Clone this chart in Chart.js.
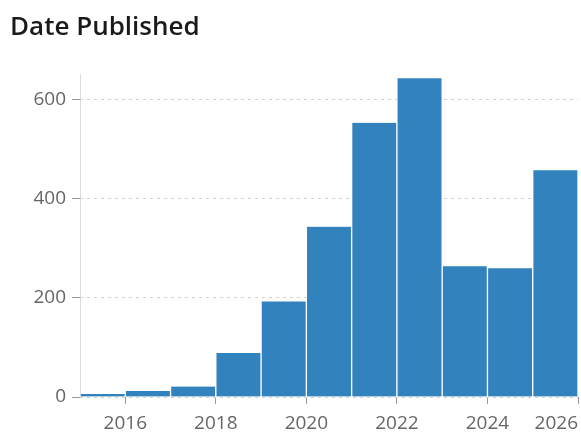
<!DOCTYPE html>
<html>
<head>
<meta charset="utf-8">
<script src="https://cdn.jsdelivr.net/npm/chart.js@4/dist/chart.umd.min.js"></script>
<style>
  html, body { margin: 0; padding: 0; background: #fff; }
  #wrap { width: 581px; height: 432px; }
</style>
</head>
<body>
<div id="wrap"><canvas id="chart" width="581" height="432"></canvas></div>
<script>
// bins: one bar per year, [start, start+1)
const binStarts = [2015, 2016, 2017, 2018, 2019, 2020, 2021, 2022, 2023, 2024, 2025];
const counts = [6, 12, 21, 89, 193, 344, 554, 644, 264, 260, 458];
const xTickYears = [2015, 2016, 2018, 2020, 2022, 2024, 2026];
const yTickValues = [0, 200, 400, 600];

const barColor = '#3182bd';
const labelFont = { family: "'Open Sans', sans-serif", size: 19 };

const points = binStarts.map((s, i) => ({ x: s + 0.5, y: counts[i] }));

new Chart(document.getElementById('chart'), {
    type: 'bar',
    data: {
        datasets: [{
            label: 'Date Published',
            data: points,
            backgroundColor: barColor,
            borderColor: '#ffffff',
            borderWidth: { left: 1, right: 1, top: 0, bottom: 0 },
            barPercentage: 1,
            categoryPercentage: 1
        }]
    },
    options: {
        responsive: false,
        animation: false,
        layout: { padding: { left: 10, right: 3, top: 0, bottom: 0 } },
        plugins: {
            legend: { display: false },
            tooltip: { enabled: false },
            title: {
                display: true,
                text: 'Date Published',
                align: 'start',
                color: '#1a1a1a',
                font: { family: "'Open Sans', sans-serif", size: 26, weight: 600 },
                padding: { top: 12, bottom: 31 }
            }
        },
        scales: {
            x: {
                type: 'linear',
                min: 2015,
                max: 2026,
                offset: false,
                afterBuildTicks: (scale) => {
                    scale.ticks = xTickYears.map(v => ({ value: v }));
                },
                afterFit: (scale) => {
                    scale.height = 35;
                    scale.paddingLeft = 0;
                    scale.paddingRight = 0;
                },
                ticks: {
                    autoSkip: false,
                    maxRotation: 0,
                    align: 'inner',
                    padding: 8,
                    color: '#666',
                    font: labelFont,
                    callback: (v) => v === 2015 ? '' : String(v)
                },
                grid: {
                    offset: false,
                    drawOnChartArea: true,
                    drawTicks: true,
                    tickLength: 7,
                    // the 2015 line doubles as the y axis line
                    color: (ctx) => ctx.tick && ctx.tick.value === 2015 ? '#dddddd' : 'rgba(0,0,0,0)',
                    tickColor: (ctx) => ctx.tick && ctx.tick.value === 2015 ? 'rgba(0,0,0,0)' : '#999'
                },
                border: { display: false }
            },
            y: {
                min: 0,
                max: 652,
                afterBuildTicks: (scale) => {
                    scale.ticks = yTickValues.map(v => ({ value: v }));
                },
                afterFit: (scale) => { scale.width = 70; },
                ticks: {
                    padding: 6,
                    color: '#666',
                    font: labelFont
                },
                grid: {
                    color: '#d0d0d0',
                    tickColor: '#999',
                    tickLength: 8,
                    tickBorderDash: []
                },
                border: { display: false, dash: [3, 4] }
            }
        }
    }
});
</script>
</body>
</html>
